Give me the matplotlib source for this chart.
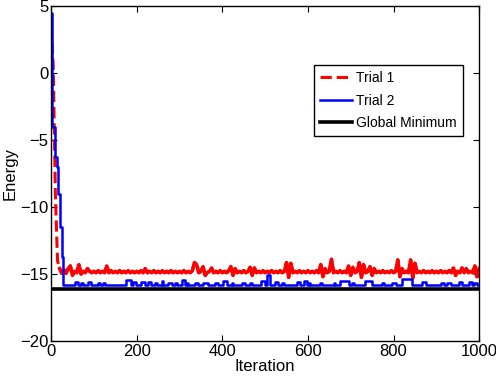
import numpy as np
import matplotlib
matplotlib.use("Agg")
import matplotlib.pyplot as plt

plt.rcParams['font.family'] = ['Liberation Sans', 'DejaVu Sans']

# Trial 1: energy every 5 iterations (0..1000)
trial1_iter = np.arange(0, 1001, 5)
trial1 = [
    3.5, 0.5, -9.0, -14.0, -14.6, -14.95, -14.7, -14.95, -14.6, -14.4, -15.1, -14.8, -14.9, -14.3, -15.0, -14.8, -14.9, -14.6, -14.8, -14.9,
    -14.8, -14.9, -14.75, -14.9, -14.8, -14.9, -14.4, -14.9, -14.75, -14.9, -14.8, -14.9, -14.75, -14.9, -14.8, -14.9, -14.75, -14.9, -14.8, -14.9,
    -14.8, -14.9, -14.75, -14.9, -14.6, -14.9, -14.8, -14.9, -14.75, -14.9, -14.8, -14.9, -14.75, -14.9, -14.8, -14.9, -14.75, -14.9, -14.8, -14.9,
    -14.8, -14.9, -14.75, -14.9, -14.8, -14.9, -14.75, -14.15, -14.3, -14.9, -14.8, -14.45, -15.1, -14.9, -14.8, -14.55, -14.9, -14.8, -14.9, -14.75,
    -14.9, -14.8, -14.9, -14.75, -14.45, -15.1, -14.6, -14.9, -14.8, -14.9, -14.75, -14.9, -14.8, -14.5, -15.1, -14.55, -14.9, -14.8, -14.9, -14.75,
    -14.9, -14.8, -14.9, -14.75, -14.9, -14.8, -14.9, -14.75, -14.9, -14.8, -14.15, -15.25, -14.2, -14.9, -14.8, -14.9, -14.75, -14.9, -14.8, -14.9,
    -14.75, -14.9, -14.8, -14.9, -14.75, -14.9, -14.3, -15.2, -14.6, -14.9, -14.8, -13.9, -14.9, -14.8, -14.9, -14.75, -14.9, -14.8, -14.9, -14.4,
    -15.1, -14.5, -14.9, -14.8, -14.15, -15.25, -14.3, -14.9, -14.8, -14.45, -15.1, -14.6, -14.9, -14.8, -14.9, -14.75, -14.9, -14.8, -14.9, -14.75,
    -14.9, -14.8, -13.95, -15.2, -14.6, -14.9, -14.8, -14.9, -13.95, -15.3, -14.2, -14.9, -14.8, -14.9, -14.75, -14.9, -14.8, -14.9, -14.75, -14.9,
    -14.8, -14.9, -14.75, -14.9, -14.8, -14.9, -14.75, -14.9, -14.55, -15.1, -14.8, -14.9, -14.55, -14.9, -14.6, -14.9, -14.8, -14.9, -14.4, -15.2,
    -14.6,
]

# Trial 2: step data (iteration where a level starts, level)
trial2_iter = [0, 2, 9, 13, 17, 21, 25, 27,
               56, 63, 70, 75, 86, 93, 110, 114, 121, 126, 175, 187, 192, 199,
               210, 220, 227, 234, 243, 248, 259, 262, 273, 283, 290, 294, 306, 313,
               318, 320, 336, 343, 355, 367, 383, 390, 402, 411, 423, 425, 446, 453,
               465, 470, 491, 500, 505, 512, 523, 530, 540, 544, 575, 582, 591, 598,
               603, 605, 628, 633, 661, 663, 675, 696, 703, 708, 734, 750, 773, 778,
               797, 806, 820, 843, 867, 876, 911, 918, 925, 934, 953, 960, 976, 983,
               988, 995, 1000]
trial2 = [4.5, -4.0, -6.3, -7.0, -9.0, -11.5, -13.7, -15.82,
          -15.6, -15.82, -15.65, -15.82, -15.6, -15.82, -15.67, -15.82, -15.67, -15.82, -15.45, -15.82, -15.6, -15.82,
          -15.6, -15.82, -15.6, -15.82, -15.65, -15.82, -15.55, -15.82, -15.65, -15.82, -15.65, -15.82, -15.45, -15.82,
          -15.65, -15.82, -15.65, -15.82, -15.67, -15.82, -15.65, -15.82, -15.5, -15.82, -15.65, -15.82, -15.65, -15.82,
          -15.65, -15.82, -15.55, -15.82, -15.1, -15.82, -15.6, -15.82, -15.65, -15.82, -15.6, -15.82, -15.55, -15.82,
          -15.67, -15.82, -15.67, -15.82, -15.67, -15.82, -15.55, -15.82, -15.67, -15.82, -15.55, -15.82, -15.67, -15.82,
          -15.65, -15.82, -15.4, -15.82, -15.6, -15.82, -15.65, -15.82, -15.65, -15.82, -15.6, -15.82, -15.6, -15.82,
          -15.65, -15.82, -15.82]

global_min = -16.1
x_range = [0, 1000]

fig = plt.figure(figsize=(4.96, 3.76), dpi=100)
ax = fig.add_axes([0.103, 0.093, 0.863, 0.891])

ax.plot(trial1_iter, trial1, color='#ff0000', ls='--', lw=2.2, label='Trial 1')
# dense noisy plateau reads as a solid band in the original
ax.plot(trial1_iter[4:], trial1[4:], color='#ff0000', lw=2.6)
ax.plot(trial2_iter, trial2, color='#0000ff', lw=1.8, drawstyle='steps-post', label='Trial 2')
ax.plot(x_range, [global_min, global_min], color='black', lw=2.6, label='Global Minimum')

ax.set_xlim(0, 1000)
ax.set_ylim(-20, 5)
ax.set_xticks([0, 200, 400, 600, 800, 1000])
ax.set_yticks([-20, -15, -10, -5, 0, 5])
ax.tick_params(direction='in', top=True, right=True, length=4, labelsize=12, pad=2)
for s in ax.spines.values():
    s.set_linewidth(1.0)
ax.set_xlabel('Iteration', fontsize=12, labelpad=0)
ax.set_ylabel('Energy', fontsize=12, labelpad=2)

leg = ax.legend(loc='upper right', bbox_to_anchor=(0.963, 0.824), fontsize=10,
                fancybox=False, framealpha=1, edgecolor='black', borderaxespad=0,
                handlelength=2.3, handletextpad=0.3, labelspacing=0.6, borderpad=0.45)
leg.get_frame().set_linewidth(1.0)

fig.savefig('out.png', dpi=100)
